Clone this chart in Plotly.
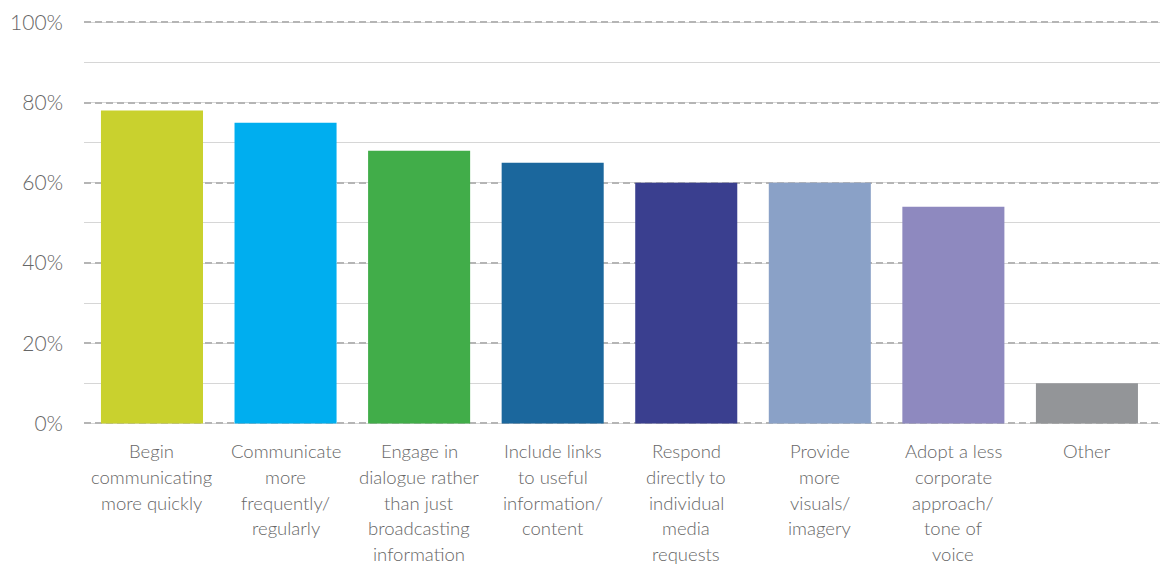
import plotly.graph_objects as go

categories = [
    "Begin<br>communicating<br>more quickly",
    "Communicate<br>more<br>frequently/<br>regularly",
    "Engage in<br>dialogue rather<br>than just<br>broadcasting<br>information",
    "Include links<br>to useful<br>information/<br>content",
    "Respond<br>directly to<br>individual<br>media<br>requests",
    "Provide<br>more<br>visuals/<br>imagery",
    "Adopt a less<br>corporate<br>approach/<br>tone of<br>voice",
    "Other",
]
values = [78, 75, 68, 65, 60, 60, 54, 10]
colors = ["#C9D12E", "#00AEEF", "#41AD49", "#1B679D", "#3A3F8F", "#8AA1C7", "#8E89BF", "#939598"]
y_tick_values = [0, 20, 40, 60, 80, 100]
y_tick_labels = ["0%", "20%", "40%", "60%", "80%", "100%"]

font_family = "'Lato Light', Lato, 'Open Sans', sans-serif"
text_color = "#666666"
line_gap = 25.6      # spacing between label lines, px
first_line = 28      # distance from axis to first label line centre, px

x_pos = list(range(len(categories)))

fig = go.Figure(
    go.Bar(
        x=x_pos,
        y=values,
        marker=dict(color=colors, line=dict(width=0)),
        width=0.764,
        hoverinfo="skip",
    )
)

# category labels, one annotation per line for wider line spacing
annotations = []
for xi, label in zip(x_pos, categories):
    for li, part in enumerate(label.split("<br>")):
        annotations.append(dict(
            x=xi, xref="x", y=0, yref="y",
            text=part, showarrow=False,
            xanchor="center", yanchor="middle",
            yshift=-(first_line + line_gap * li),
            font=dict(size=18.5, color=text_color, family=font_family),
        ))

fig.update_layout(
    width=1165,
    height=566,
    margin=dict(l=84, r=5, t=20, b=141),
    paper_bgcolor="white",
    plot_bgcolor="white",
    showlegend=False,
    font=dict(family=font_family, color=text_color),
    annotations=annotations,
)

fig.update_xaxes(
    range=[-0.509, 7.547],
    showticklabels=False,
    showgrid=False,
    showline=False,
    zeroline=False,
    ticks="",
)

fig.update_yaxes(
    range=[-0.4, 100.6],
    tickvals=y_tick_values,
    ticktext=y_tick_labels,
    showgrid=True,
    gridcolor="#b5b5b5",
    gridwidth=1.6,
    griddash="7px,4px",
    minor=dict(dtick=10, showgrid=True, gridcolor="#d6d6d6", gridwidth=1.3, griddash="solid"),
    zeroline=False,
    showline=False,
    ticks="",
    tickfont=dict(size=21, color=text_color),
    ticklabelstandoff=20,
)

fig.write_html("out.html")
